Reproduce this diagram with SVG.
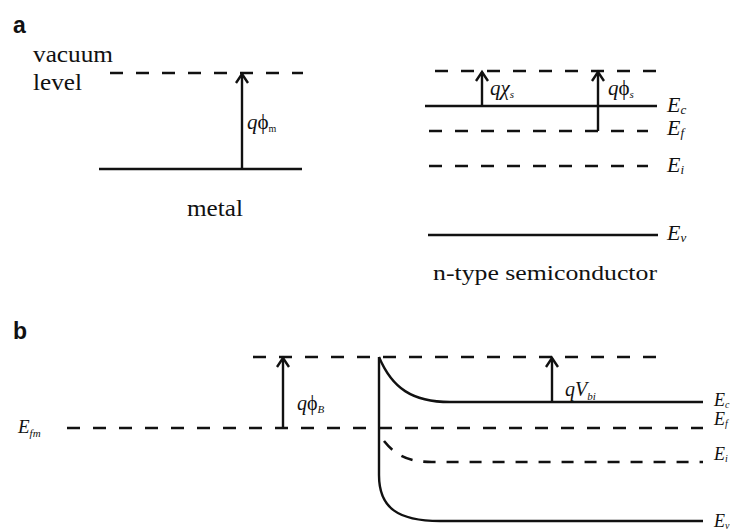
<svg xmlns="http://www.w3.org/2000/svg" width="735" height="530" viewBox="0 0 735 530">
<style>
.s{fill:none;stroke:#111;stroke-width:2.4}
.d{fill:none;stroke:#111;stroke-width:2.6;stroke-dasharray:13 13}
.t{font-family:'Liberation Serif','DejaVu Serif','Times New Roman',Times,serif;fill:#111}
.i{font-style:italic}
.h{font-family:'Liberation Sans',Arial,sans-serif;font-weight:bold;fill:#111}
</style>
<defs>
<marker id="ah" markerUnits="userSpaceOnUse" markerWidth="16" markerHeight="16" refX="0" refY="0" viewBox="-12 -8 14 16" orient="auto">
<path d="M-9,-6 L0,0 L-9,6" fill="none" stroke="#111" stroke-width="2.4"/>
</marker>
</defs>

<g id="panel-a">
<text class="h" x="13" y="33" font-size="23">a</text>
<g id="metal">
<text class="t" font-family="Liberation Serif, serif" x="33" y="62" font-size="23" textLength="80" lengthAdjust="spacingAndGlyphs">vacuum</text>
<text class="t" font-family="Liberation Serif, serif" x="33" y="90" font-size="23" textLength="49" lengthAdjust="spacingAndGlyphs">level</text>
<path class="d" d="M110,73 H303"/>
<path class="s" d="M99,169 H302"/>
<text class="t" font-family="Liberation Serif, serif" x="187" y="216" font-size="23" textLength="56" lengthAdjust="spacingAndGlyphs">metal</text>
<text class="t" font-family="Liberation Serif, serif" x="247" y="129" font-size="21"><tspan class="i">q</tspan>ϕ<tspan font-size="10" dy="3">m</tspan></text>
</g>
<g id="semiconductor">
<path class="d" d="M435,71 H657"/>
<path class="s" d="M425,106 H657"/>
<path class="d" d="M429,131 H648"/>
<path class="d" d="M429,166 H648"/>
<path class="s" d="M428,235 H658"/>
<text class="t" font-family="Liberation Serif, serif" x="490" y="95" font-size="21"><tspan class="i">q</tspan><tspan class="i">χ</tspan><tspan class="i" font-size="11" dy="3">s</tspan></text>
<text class="t" font-family="Liberation Serif, serif" x="608" y="95" font-size="21"><tspan class="i">q</tspan>ϕ<tspan class="i" font-size="11" dy="3">s</tspan></text>
<text class="t i" font-family="Liberation Serif, serif" x="667" y="112" font-size="22">E<tspan font-size="13" dy="2">c</tspan></text>
<text class="t i" font-family="Liberation Serif, serif" x="667" y="135" font-size="22">E<tspan font-size="13" dy="2">f</tspan></text>
<text class="t i" font-family="Liberation Serif, serif" x="667" y="172" font-size="22">E<tspan font-size="13" dy="2">i</tspan></text>
<text class="t i" font-family="Liberation Serif, serif" x="667" y="240" font-size="22">E<tspan font-size="13" dy="2">v</tspan></text>
<text class="t" font-family="Liberation Serif, serif" x="433" y="280" font-size="22" textLength="224" lengthAdjust="spacingAndGlyphs">n-type semiconductor</text>
</g>
</g>

<g id="panel-b">
<text class="h" x="13" y="339" font-size="23">b</text>
<g id="bands-b">
<path class="d" d="M253,357 H657"/>
<path class="d" d="M67,428 H703"/>
<path class="s" d="M379,357 C392,388 412,402 450,402 H703"/>
<path class="s" d="M379,357 V475 C379,508 398,521 440,521 H703"/>
<path class="d" style="stroke-dasharray:12 11" d="M384,441 C396,456 410,462 432,462 H703"/>
</g>
<text class="t i" font-family="Liberation Serif, serif" x="18" y="433" font-size="19">E<tspan font-size="11" dy="4">fm</tspan></text>
<text class="t" font-family="Liberation Serif, serif" x="297" y="410" font-size="20"><tspan class="i">q</tspan>ϕ<tspan class="i" font-size="11" dy="3">B</tspan></text>
<text class="t" font-family="Liberation Serif, serif" x="565" y="396" font-size="20"><tspan class="i">qV</tspan><tspan class="i" font-size="11" dy="4">bi</tspan></text>
<text class="t i" font-family="Liberation Serif, serif" x="714" y="406" font-size="18">E<tspan font-size="10" dy="2">c</tspan></text>
<text class="t i" font-family="Liberation Serif, serif" x="714" y="425" font-size="18">E<tspan font-size="10" dy="2">f</tspan></text>
<text class="t i" font-family="Liberation Serif, serif" x="714" y="460" font-size="18">E<tspan font-size="10" dy="2">i</tspan></text>
<text class="t i" font-family="Liberation Serif, serif" x="714" y="527" font-size="18">E<tspan font-size="10" dy="2">v</tspan></text>
</g>

<g id="connectors">
<path class="s" d="M242,169 V74" marker-end="url(#ah)"/>
<path class="s" d="M482,106 V72" marker-end="url(#ah)"/>
<path class="s" d="M598,131 V72" marker-end="url(#ah)"/>
<path class="s" d="M283,428 V358" marker-end="url(#ah)"/>
<path class="s" d="M552,402 V358" marker-end="url(#ah)"/>
</g>
</svg>
